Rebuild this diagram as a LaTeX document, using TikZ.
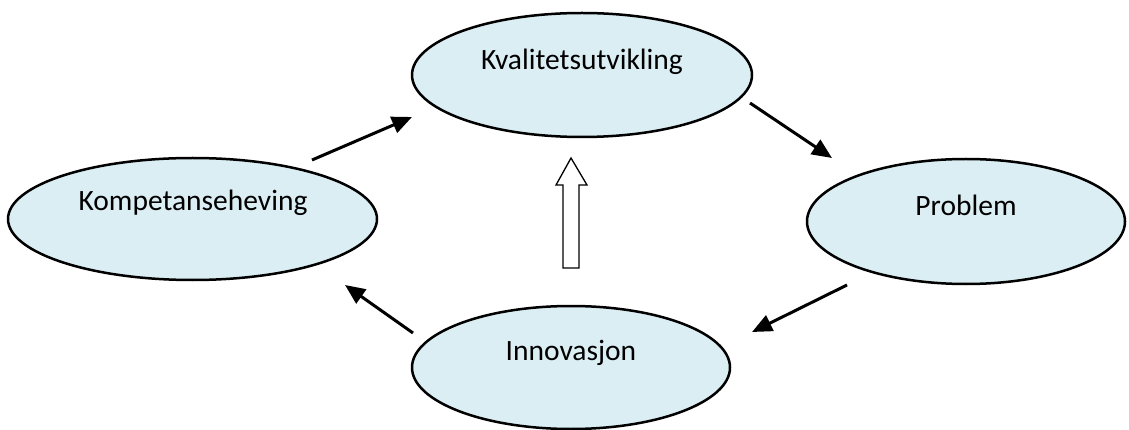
\documentclass[tikz,border=0pt]{standalone}
\usepackage{fontspec}
\setmainfont{Carlito}
\usetikzlibrary{shapes.geometric,arrows.meta}
\definecolor{ellfill}{RGB}{219,238,244}
\tikzset{
  ell/.style={ellipse, draw=black, line width=2.5pt, fill=ellfill, inner sep=0pt},
  lbl/.style={font=\fontsize{29.5}{34}\selectfont, text=black, inner sep=0pt},
  conn/.style={line width=3pt, -{Triangle[length=20pt,width=17pt]}},
  block/.style={draw=black, line width=1.3pt, fill=white}
}
\begin{document}
\begin{tikzpicture}[x=1pt,y=-1pt]
\useasboundingbox (0,0) rectangle (1129,430);
\node[ell, minimum width=340pt, minimum height=124pt] (kval) at (582,75) {};
\node[ell, minimum width=369pt, minimum height=122pt] (komp) at (192.5,219) {};
\node[ell, minimum width=318pt, minimum height=125pt] (prob) at (966,221.5) {};
\node[ell, minimum width=318pt, minimum height=123pt] (inno) at (571,367.5) {};
\node[lbl] (tkval) at (582,62) {Kvalitetsutvikling};
\node[lbl] (tkomp) at (193,203) {Kompetanseheving};
\node[lbl] (tprob) at (966,205) {Problem};
\node[lbl] (tinno) at (571,353) {Innovasjon};
\coordinate (a1s) at (312,160); \coordinate (a1e) at (412,117);
\coordinate (a2s) at (750,103); \coordinate (a2e) at (832,158);
\coordinate (a3s) at (847,285); \coordinate (a3e) at (752,332);
\coordinate (a4s) at (413,333); \coordinate (a4e) at (345,285);
\draw[conn] (a1s) -- (a1e);
\draw[conn] (a2s) -- (a2e);
\draw[conn] (a3s) -- (a3e);
\draw[conn] (a4s) -- (a4e);
\draw[block] (563,268) -- (563,185) -- (556,185) -- (571,158) -- (587,185) -- (579,185) -- (579,268) -- cycle;
\end{tikzpicture}
\end{document}
